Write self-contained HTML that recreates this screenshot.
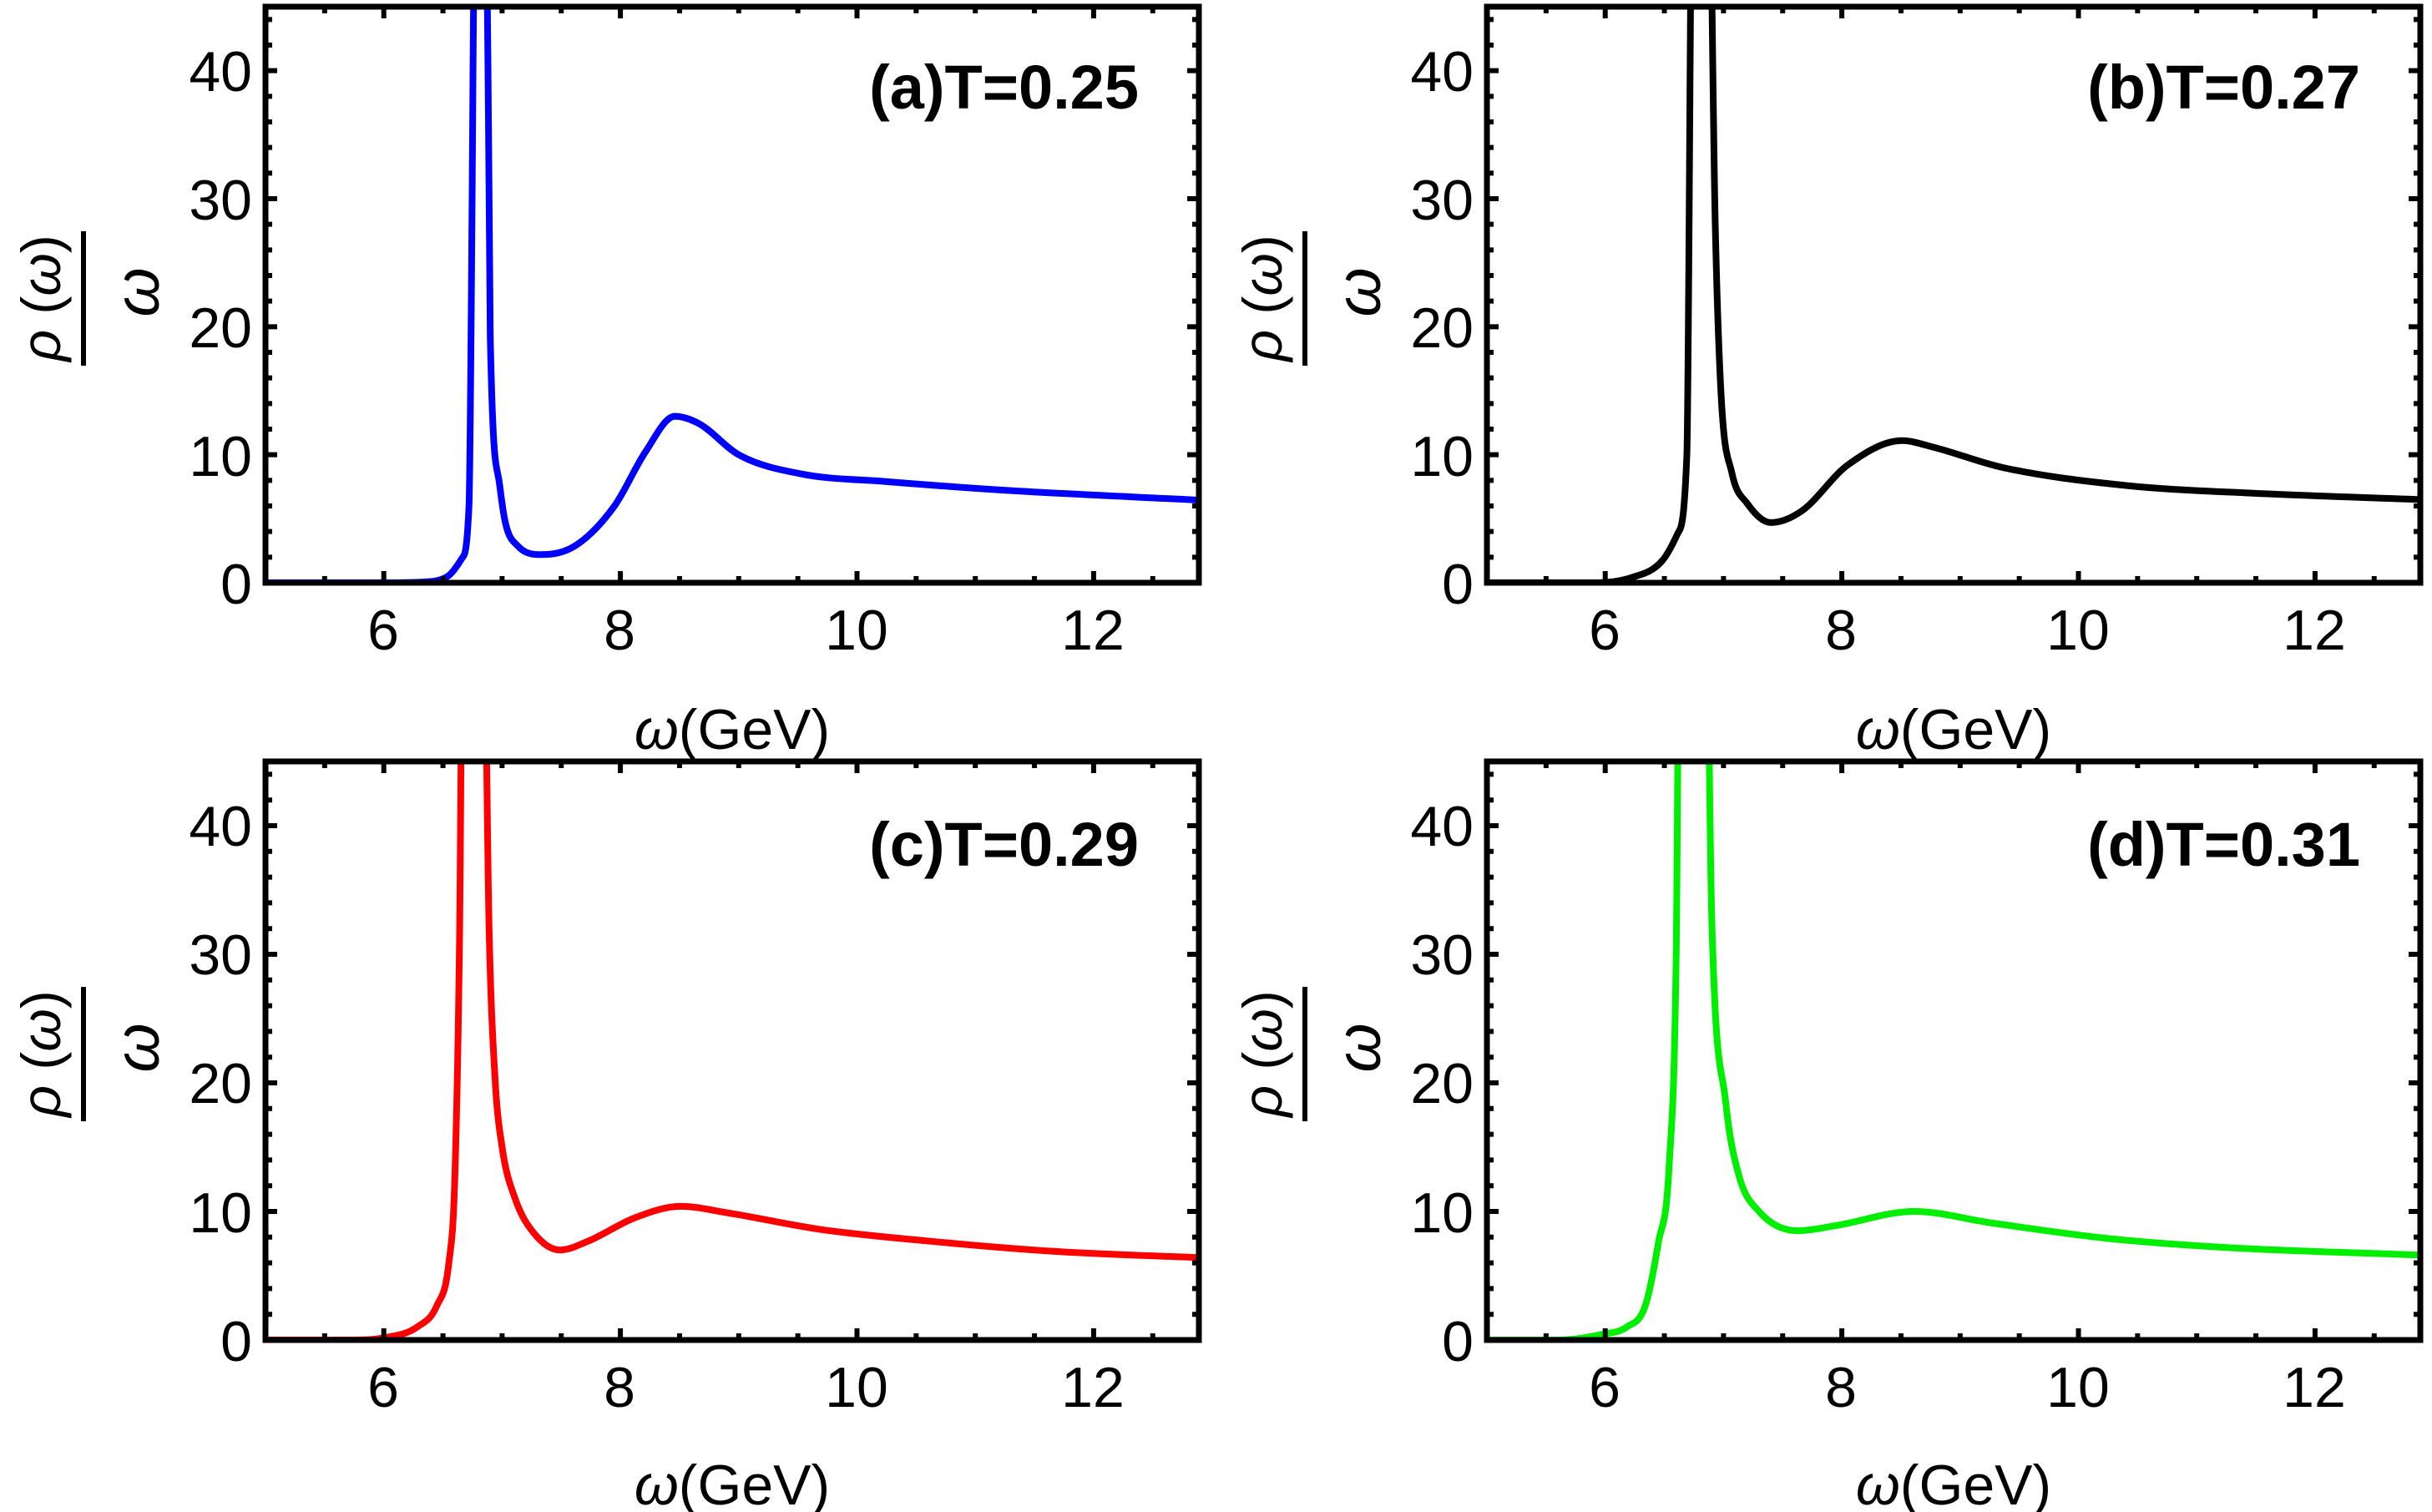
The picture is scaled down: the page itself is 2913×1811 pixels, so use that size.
<!DOCTYPE html>
<html><head><meta charset="utf-8"><style>
html,body{margin:0;padding:0;background:#fff;}
svg{display:block;}
text{font-family:"Liberation Sans",Arial,sans-serif;fill:#000;}
</style></head><body>
<svg id="s" width="2913" height="1811" viewBox="0 0 2913 1811" xmlns="http://www.w3.org/2000/svg">
<defs>
<clipPath id="ca"><rect x="318" y="8" width="1118" height="690"/></clipPath>
<clipPath id="cb"><rect x="1781" y="8" width="1118" height="690"/></clipPath>
<clipPath id="cc"><rect x="318" y="912" width="1118" height="693"/></clipPath>
<clipPath id="cd"><rect x="1781" y="912" width="1118" height="693"/></clipPath>
</defs>
<g id="g"></g>
<g font-size="68" text-anchor="end">
<text x="302" y="723">0</text><text x="302" y="570">10</text><text x="302" y="416">20</text><text x="302" y="263">30</text><text x="302" y="109">40</text>
<text x="1765" y="723">0</text><text x="1765" y="570">10</text><text x="1765" y="416">20</text><text x="1765" y="263">30</text><text x="1765" y="109">40</text>
<text x="302" y="1630">0</text><text x="302" y="1476">10</text><text x="302" y="1321">20</text><text x="302" y="1167">30</text><text x="302" y="1013">40</text>
<text x="1765" y="1630">0</text><text x="1765" y="1476">10</text><text x="1765" y="1321">20</text><text x="1765" y="1167">30</text><text x="1765" y="1013">40</text>
</g>
<g font-size="68" text-anchor="middle">
<text x="459" y="778">6</text><text x="742" y="778">8</text><text x="1026" y="778">10</text><text x="1309" y="778">12</text>
<text x="1922" y="778">6</text><text x="2205" y="778">8</text><text x="2489" y="778">10</text><text x="2772" y="778">12</text>
<text x="459" y="1685">6</text><text x="742" y="1685">8</text><text x="1026" y="1685">10</text><text x="1309" y="1685">12</text>
<text x="1922" y="1685">6</text><text x="2205" y="1685">8</text><text x="2489" y="1685">10</text><text x="2772" y="1685">12</text>
</g>
<g font-size="68" text-anchor="middle">
<text x="877" y="897"><tspan font-style="italic">ω</tspan>(GeV)</text>
<text x="2340" y="897"><tspan font-style="italic">ω</tspan>(GeV)</text>
<text x="877" y="1802"><tspan font-style="italic">ω</tspan>(GeV)</text>
<text x="2340" y="1802"><tspan font-style="italic">ω</tspan>(GeV)</text>
</g>
<g font-size="74" font-weight="bold" text-anchor="end">
<text x="1364" y="130">(a)T=0.25</text>
<text x="2827" y="130">(b)T=0.27</text>
<text x="1364" y="1037">(c)T=0.29</text>
<text x="2827" y="1037">(d)T=0.31</text>
</g>
<g font-size="66" text-anchor="middle">
<text transform="translate(72,357) rotate(-90)"><tspan font-style="italic">ρ</tspan> (<tspan font-style="italic">ω</tspan>)</text>
<text transform="translate(190,350) rotate(-90)" font-style="italic" font-size="76">ω</text>
<line x1="100" y1="277" x2="100" y2="438" stroke="#000" stroke-width="6"/>
<text transform="translate(1535,357) rotate(-90)"><tspan font-style="italic">ρ</tspan> (<tspan font-style="italic">ω</tspan>)</text>
<text transform="translate(1653,350) rotate(-90)" font-style="italic" font-size="76">ω</text>
<line x1="1563" y1="277" x2="1563" y2="438" stroke="#000" stroke-width="6"/>
<text transform="translate(72,1262) rotate(-90)"><tspan font-style="italic">ρ</tspan> (<tspan font-style="italic">ω</tspan>)</text>
<text transform="translate(190,1255) rotate(-90)" font-style="italic" font-size="76">ω</text>
<line x1="100" y1="1182" x2="100" y2="1343" stroke="#000" stroke-width="6"/>
<text transform="translate(1535,1262) rotate(-90)"><tspan font-style="italic">ρ</tspan> (<tspan font-style="italic">ω</tspan>)</text>
<text transform="translate(1653,1255) rotate(-90)" font-style="italic" font-size="76">ω</text>
<line x1="1563" y1="1182" x2="1563" y2="1343" stroke="#000" stroke-width="6"/>
</g>
</svg>
<script>
var NS="http://www.w3.org/2000/svg",G=document.getElementById("g");
function el(t,a){var e=document.createElementNS(NS,t);for(var k in a)e.setAttribute(k,a[k]);G.appendChild(e);return e;}
var panels=[
{L:318,T:8,B:698,c:"#0000ff",clip:"ca",d:[[5,0],[6.0,0],[6.4,0.1],[6.54,0.5],[6.66,1.9],[6.72,6],[6.78,60],[6.86,60],[6.90,19.2],[6.98,7.6],[7.03,4.6],[7.13,2.9],[7.33,2.2],[7.62,2.9],[7.95,6],[8.21,10.2],[8.46,13],[8.67,12.4],[9.0,10],[9.53,8.5],[10.25,7.9],[11.3,7.2],[12.9,6.45]]},
{L:1781,T:8,B:698,c:"#000",clip:"cb",d:[[5,0],[5.9,0],[6.22,0.4],[6.48,1.7],[6.61,3.8],[6.69,10],[6.74,60],[6.87,60],[6.93,28],[6.98,14.6],[7.07,8.6],[7.2,6.2],[7.4,4.7],[7.66,5.6],[8.05,9.2],[8.51,11.1],[8.77,10.6],[9.36,9],[10.4,7.6],[11.46,7.0],[12.9,6.5]]},
{L:318,T:912,B:1605,c:"#ff0000",clip:"cc",d:[[5,0],[5.7,0],[6.02,0.2],[6.28,1],[6.45,2.7],[6.55,6],[6.6,12.5],[6.64,31],[6.67,60],[6.84,60],[6.89,32],[6.94,20.4],[7.0,15],[7.11,11],[7.27,8.3],[7.49,7],[7.73,7.7],[8.12,9.5],[8.51,10.4],[8.9,9.9],[9.69,8.6],[10.6,7.7],[11.66,6.9],[12.9,6.4]]},
{L:1781,T:912,B:1605,c:"#00ee00",clip:"cd",d:[[5,0],[5.6,0],[5.98,0.45],[6.18,1],[6.34,2.7],[6.45,7.6],[6.54,13.5],[6.6,30],[6.63,60],[6.85,60],[6.90,33],[7.02,18.4],[7.13,12.8],[7.30,10],[7.63,8.5],[7.95,8.9],[8.61,10],[9.27,9.1],[10.25,7.9],[11.24,7.2],[12.9,6.6]]}
];
function mono(xs,ys){var n=xs.length,d=[],m=[];
 for(var i=0;i<n-1;i++)d.push((ys[i+1]-ys[i])/(xs[i+1]-xs[i]));
 m[0]=d[0];m[n-1]=d[n-2];
 for(var i=1;i<n-1;i++){m[i]=(d[i-1]*d[i]<=0)?0:(d[i-1]+d[i])/2;}
 for(var i=0;i<n-1;i++){if(d[i]==0){m[i]=0;m[i+1]=0;continue;}
  var a=m[i]/d[i],b=m[i+1]/d[i],h=a*a+b*b;if(h>9){var t=3/Math.sqrt(h);m[i]=t*a*d[i];m[i+1]=t*b*d[i];}}
 return m;}
panels.forEach(function(p){
 var W=1118,H=p.B-p.T,sx=141.7,sy=H/45;
 function X(x){return p.L+(x-5)*sx;} function Y(v){return p.B-v*sy;}
 var xs=p.d.map(function(q){return X(q[0]);}),ys=p.d.map(function(q){return Y(q[1]);});
 var m=mono(xs,ys);
 var s="M"+xs[0]+","+ys[0];
 for(var i=0;i<xs.length-1;i++){var h=(xs[i+1]-xs[i])/3;
  s+=" C"+(xs[i]+h)+","+(ys[i]+m[i]*h)+" "+(xs[i+1]-h)+","+(ys[i+1]-m[i+1]*h)+" "+xs[i+1]+","+ys[i+1];}
 el("path",{d:s,fill:"none",stroke:p.c,"stroke-width":8,"stroke-linejoin":"round","clip-path":"url(#"+p.clip+")"});
 var t="";
 for(var x=5;x<=12.95;x+=0.5){var maj=(Math.abs(x/2-Math.round(x/2))<1e-6),l=maj?14:8,xx=X(x);
  t+="M"+xx+","+p.B+"v"+(-l)+"M"+xx+","+p.T+"v"+l;}
 for(var v=0;v<=45;v+=2){var maj=(v%10==0),l=maj?14:8,yy=Y(v);
  t+="M"+p.L+","+yy+"h"+l+"M"+(p.L+W)+","+yy+"h"+(-l);}
 el("path",{d:t,stroke:"#000","stroke-width":6,fill:"none"});
 el("rect",{x:p.L,y:p.T,width:W,height:H,fill:"none",stroke:"#000","stroke-width":7});
});
</script>
</body></html>
